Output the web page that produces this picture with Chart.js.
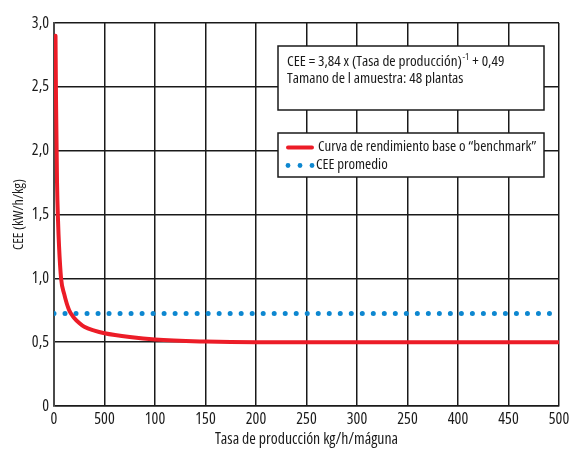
<!DOCTYPE html>
<html><head><meta charset="utf-8">
<script src="https://cdn.jsdelivr.net/npm/chart.js@4.4.1/dist/chart.umd.min.js"></script>
<style>html,body{margin:0;padding:0;background:#fff}#wrap{width:570px;height:449px}</style>
</head><body><div id="wrap"><canvas id="c" width="570" height="449"></canvas></div>
<script>
const FAM = "'Open Sans', 'Liberation Sans', sans-serif";
const STRETCH = 'condensed';
const xTickLabels = ["0","500","100","150","200","250","300","250","400","450","500"];
const yTickLabels = ["0","0,5","1,0","1,5","2,0","2,5","3,0"];
const curveX = [1.5, 2, 3, 4, 5, 7, 10, 15, 20, 25, 30, 40, 50, 75, 100, 150, 200, 300, 400, 500];
const curveY = [2.9, 2.4, 1.75, 1.45, 1.25, 1.0, 0.88, 0.75, 0.69, 0.65, 0.62, 0.59, 0.57, 0.54, 0.52, 0.505, 0.50, 0.50, 0.50, 0.50];
const avgX = [0, 500];
const avgY = [0.725, 0.725];
const seriesLabels = ["Curva de rendimiento base o \u201cbenchmark\u201d", "CEE promedio"];
const noteLine1 = "CEE = 3,84 x (Tasa de producción)";
const noteSup = "-1";
const noteLine1b = " + 0,49";
const noteLine2 = "Tamano de l amuestra: 48 plantas";
const xTitle = "Tasa de producción kg/h/máguna";
const yTitle = "CEE (kW/h/kg)";

const RED = '#ec1c27', BLUE = '#0d87d0', INK = '#1a1a1a';
const f = (size) => STRETCH + ' ' + size + 'px ' + FAM;

const boxes = {
  id: 'boxes',
  afterDatasetsDraw(chart) {
    const ctx = chart.ctx;
    ctx.save();
    ctx.lineWidth = 1.5;
    ctx.strokeStyle = INK;
    ctx.fillStyle = '#fff';
    ctx.fillRect(278, 46, 266, 64);
    ctx.strokeRect(278, 46, 266, 64);
    ctx.fillStyle = INK;
    ctx.textBaseline = 'middle';
    ctx.font = f(15.2);
    let x = 287;
    ctx.fillText(noteLine1, x, 62);
    x += ctx.measureText(noteLine1).width;
    ctx.font = f(9.5);
    ctx.fillText(noteSup, x + 0.5, 57);
    x += ctx.measureText(noteSup).width + 1;
    ctx.font = f(15.2);
    ctx.fillText(noteLine1b, x, 62);
    ctx.fillText(noteLine2, 287, 79);
    ctx.fillStyle = '#fff';
    ctx.fillRect(278, 133, 266, 44);
    ctx.strokeRect(278, 133, 266, 44);
    ctx.strokeStyle = RED;
    ctx.lineWidth = 4;
    ctx.lineCap = 'round';
    ctx.beginPath(); ctx.moveTo(288, 147.5); ctx.lineTo(312, 147.5); ctx.stroke();
    ctx.fillStyle = BLUE;
    [288, 300, 312].forEach(px => { ctx.beginPath(); ctx.arc(px, 165.5, 2.4, 0, Math.PI*2); ctx.fill(); });
    ctx.fillStyle = INK;
    ctx.font = f(14.9);
    ctx.fillText(seriesLabels[0], 318, 147);
    ctx.fillText(seriesLabels[1], 316, 165);
    ctx.restore();
  }
};

new Chart(document.getElementById('c'), {
  type: 'line',
  data: {
    datasets: [
      { label: seriesLabels[0], data: curveX.map((v,i)=>({x:v,y:curveY[i]})), borderColor: RED, borderWidth: 4, pointRadius: 0, cubicInterpolationMode: 'monotone', fill: false, borderCapStyle: 'round' },
      { label: seriesLabels[1], data: avgX.map((v,i)=>({x:v,y:avgY[i]})), borderColor: BLUE, borderWidth: 5, pointRadius: 0, borderDash: [0.01, 11], borderCapStyle: 'round', fill: false }
    ]
  },
  options: {
    responsive: false, animation: false, devicePixelRatio: 1,
    layout: { padding: { left: 0, right: 11, top: 23, bottom: 0 } },
    plugins: { legend: { display: false }, tooltip: { enabled: false } },
    scales: {
      x: {
        type: 'linear', min: 0, max: 500,
        ticks: { stepSize: 50, color: INK, font: { family: FAM, weight: STRETCH, size: 16 }, padding: 4, maxRotation: 0, autoSkip: false,
          callback: (v) => xTickLabels[Math.round(v/50)] },
        grid: { color: INK, lineWidth: 1.5, drawTicks: false },
        border: { color: INK, width: 1.5 },
        title: { display: true, text: xTitle, color: INK, font: { family: FAM, weight: STRETCH, size: 15.8 }, padding: { top: 5, bottom: 0 } },
        afterFit: (s) => { s.height = 43; s.paddingLeft = 0; s.paddingRight = 0; }
      },
      y: {
        min: 0, max: 3,
        ticks: { stepSize: 0.5, color: INK, font: { family: FAM, weight: STRETCH, size: 16 }, padding: 5,
          callback: (v) => yTickLabels[Math.round(v*2)] },
        grid: { color: INK, lineWidth: 1.5, drawTicks: false },
        border: { color: '#4a4a4a', width: 2 },
        title: { display: true, text: yTitle, color: INK, font: { family: FAM, weight: STRETCH, size: 14 }, padding: { top: 11, bottom: 4 } },
        afterFit: (s) => { s.width = 54; s.paddingTop = 0; s.paddingBottom = 0; }
      }
    }
  },
  plugins: [boxes]
});
</script></body></html>
